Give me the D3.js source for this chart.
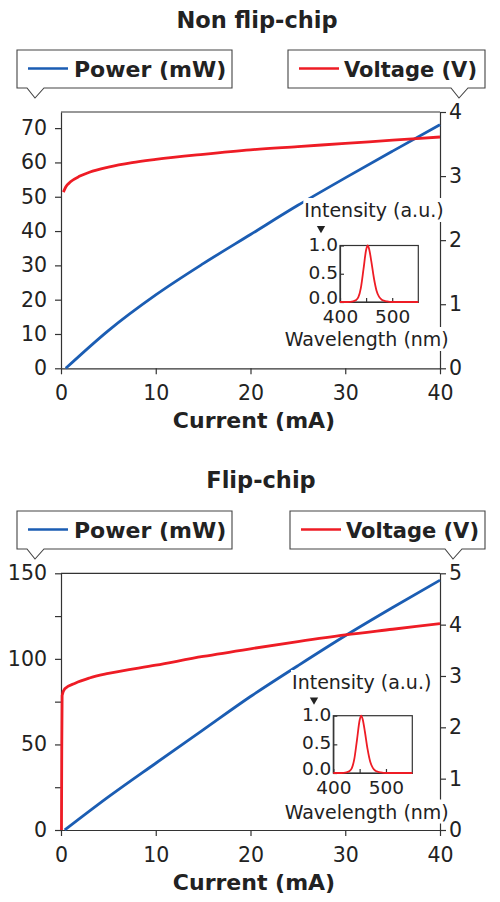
<!DOCTYPE html>
<html>
<head>
<meta charset="utf-8">
<script src="https://cdn.jsdelivr.net/npm/d3@7"></script>
<style>
body { margin: 0; background: #fff; }
svg { display: block; font-family: "DejaVu Sans", sans-serif; }
</style>
</head>
<body>
<svg id="chart" width="500" height="902"></svg>
<script>
// values
const nfPowerCurrent = [0.5, 5, 10, 15, 20, 25, 30, 35, 40]
const nfPower = [0, 11, 21.4, 30.5, 39, 47.5, 55.5, 63.3, 71]
const nfVoltCurrent = [0.25, 0.5, 1, 2, 3, 5, 7.5, 10, 15, 20, 25, 30, 35, 40]
const nfVoltage = [2.75, 2.83, 2.91, 3.0, 3.06, 3.14, 3.21, 3.26, 3.34, 3.41, 3.46, 3.51, 3.56, 3.61]

const fcPowerCurrent = [0.4, 5, 10, 15, 20, 25, 30, 35, 40]
const fcPower = [0, 19.3, 39, 58.5, 78, 96, 113.5, 130, 146]
const fcVoltCurrent = [0.05, 0.08, 0.12, 0.4, 1.5, 3, 5, 10, 15, 20, 25, 30, 35, 40]
const fcVoltage = [0, 1.5, 2.62, 2.75, 2.86, 2.96, 3.05, 3.21, 3.38, 3.53, 3.67, 3.8, 3.91, 4.02]

const wavelength = [400, 415, 425, 430, 435, 440, 445, 450, 453, 456, 460, 465, 470, 475, 480, 485, 490, 500, 550]
const intensity = [0, 0, 0.01, 0.03, 0.08, 0.25, 0.58, 0.92, 1.0, 0.93, 0.72, 0.42, 0.2, 0.09, 0.04, 0.02, 0.01, 0, 0]

const currentTicks = [0, 10, 20, 30, 40]
const nfPowerTicks = [0, 10, 20, 30, 40, 50, 60, 70]
const nfVoltTicks = [0, 1, 2, 3, 4]
const fcPowerTicks = [0, 25, 50, 75, 100, 125, 150]
const fcPowerLabels = [0, 50, 100, 150]
const fcVoltTicks = [0, 1, 2, 3, 4, 5]
const wlTicks = [400, 450, 500]
const wlLabels = [400, 500]
const intTicks = [0, 0.5, 1]

const svg = d3.select('#chart')
const blue = '#1b5db3'
const red = '#ee1c25'
const ink = '#222'
const rule = '#333'

const zip = (a, b) => a.map((v, i) => [v, b[i]])

const drawCallout = (b, color, label) => {
    const g = svg.append('g')
    const path = d3.path()
    path.moveTo(b.x0, b.y0)
    path.lineTo(b.x1, b.y0)
    path.lineTo(b.x1, b.y1)
    path.lineTo(b.tip + 9, b.y1)
    path.lineTo(b.tip, b.y1 + 10)
    path.lineTo(b.tip - 8, b.y1)
    path.lineTo(b.x0, b.y1)
    path.closePath()
    g.append('path').attr('d', path.toString())
        .attr('fill', '#fff').attr('stroke', '#444').attr('stroke-width', 1.1)
    g.append('line')
        .attr('x1', b.x0 + 11).attr('x2', b.x0 + 51)
        .attr('y1', b.y0 + 18.5).attr('y2', b.y0 + 18.5)
        .attr('stroke', color).attr('stroke-width', 2.6)
    g.append('text')
        .attr('x', b.x0 + b.textDx).attr('y', b.y0 + 26.5)
        .attr('font-size', b.size).attr('font-weight', 'bold').attr('fill', ink)
        .text(label)
}

const styleAxis = (sel, size) => {
    sel.selectAll('path, line').attr('stroke', rule).attr('stroke-width', 1.2)
    sel.selectAll('text').attr('font-size', size).attr('fill', ink)
        .attr('font-family', '"DejaVu Sans", sans-serif')
}

const labelWithBg = (x, y, txt, size) => {
    const g = svg.append('g')
    const rect = g.append('rect').attr('fill', '#fff')
    const t = g.append('text').attr('x', x).attr('y', y)
        .attr('text-anchor', 'middle').attr('font-size', size).attr('fill', ink)
        .text(txt)
    const bb = t.node().getBBox()
    rect.attr('x', bb.x - 1).attr('y', bb.y - 1)
        .attr('width', bb.width + 2).attr('height', bb.height + 2)
}

const drawPanel = (cfg) => {
    svg.append('text')
        .attr('x', cfg.titleX).attr('y', cfg.titleY)
        .attr('text-anchor', 'middle').attr('font-size', 22.5).attr('font-weight', 'bold')
        .attr('fill', ink).text(cfg.title)

    drawCallout(cfg.powerBox, blue, 'Power (mW)')
    drawCallout(cfg.voltBox, red, 'Voltage (V)')

    const x = d3.scaleLinear().domain([0, 40]).range([61, 440])
    const yL = d3.scaleLinear().domain([0, cfg.powerMax]).range([cfg.bottom, cfg.top])
    const yR = d3.scaleLinear().domain([0, cfg.voltMax]).range([cfg.bottom, cfg.top])

    svg.append('line')
        .attr('x1', 61).attr('x2', 440).attr('y1', cfg.top).attr('y2', cfg.top)
        .attr('stroke', rule).attr('stroke-width', 1.2)

    const gx = svg.append('g').attr('transform', `translate(0,${cfg.bottom})`)
        .call(d3.axisBottom(x).tickValues(currentTicks).tickSize(6).tickSizeOuter(0).tickPadding(11)
            .tickFormat(d3.format('d')))
    styleAxis(gx, 20.5)

    const gl = svg.append('g').attr('transform', 'translate(61,0)')
        .call(d3.axisLeft(yL).tickValues(cfg.powerTicks).tickSize(6).tickSizeOuter(0).tickPadding(8)
            .tickFormat(d => cfg.powerLabels.includes(d) ? d : ''))
    styleAxis(gl, 20.5)

    const gr = svg.append('g').attr('transform', 'translate(440,0)')
        .call(d3.axisRight(yR).tickValues(cfg.voltTicks).tickSize(6).tickSizeOuter(0).tickPadding(3)
            .tickFormat(d3.format('d')))
    styleAxis(gr, 20.5)

    svg.append('text')
        .attr('x', 254).attr('y', cfg.bottom + 59.5)
        .attr('text-anchor', 'middle').attr('font-size', 22).attr('font-weight', 'bold')
        .attr('fill', ink).text('Current (mA)')

    const lineP = d3.line().x(d => x(d[0])).y(d => yL(d[1])).curve(d3.curveMonotoneX)
    const lineV = d3.line().x(d => x(d[0])).y(d => yR(d[1])).curve(d3.curveMonotoneX)

    svg.append('path').attr('d', lineP(zip(cfg.powerCurrent, cfg.power)))
        .attr('fill', 'none').attr('stroke', blue).attr('stroke-width', 2.8)
    svg.append('path').attr('d', lineV(zip(cfg.voltCurrent, cfg.voltage)))
        .attr('fill', 'none').attr('stroke', red).attr('stroke-width', 2.8)

    // inset spectrum
    const ins = cfg.inset
    labelWithBg(ins.intX, ins.intY, 'Intensity (a.u.)', 19)
    labelWithBg(ins.wlX, ins.wlY, 'Wavelength (nm)', 19)
    svg.append('path')
        .attr('d', d3.symbol(d3.symbolTriangle, 30)())
        .attr('transform', `translate(${ins.triX},${ins.triY}) rotate(180)`)
        .attr('fill', ink)

    const xs = d3.scaleLinear().domain([400, 550]).range([ins.x0, ins.x1])
    const ys = d3.scaleLinear().domain([0, 1]).range([ins.y1, ins.y0])

    const gsx = svg.append('g').attr('transform', `translate(0,${ins.y1})`)
        .call(d3.axisBottom(xs).tickValues(wlTicks).tickSizeInner(-4).tickSizeOuter(0).tickPadding(8)
            .tickFormat(d => wlLabels.includes(d) ? d : ''))
    styleAxis(gsx, 18.5)
    const gsy = svg.append('g').attr('transform', `translate(${ins.x0},0)`)
        .call(d3.axisLeft(ys).tickValues(intTicks).tickSizeInner(-4).tickSizeOuter(0).tickPadding(2)
            .tickFormat(d3.format('.1f')))
    styleAxis(gsy, 18.5)
    gsy.selectAll('text').attr('dy', d => d === 0 ? '0.1em' : '0.25em')

    svg.append('rect')
        .attr('x', ins.x0).attr('y', ins.y0)
        .attr('width', ins.x1 - ins.x0).attr('height', ins.y1 - ins.y0)
        .attr('fill', 'none').attr('stroke', rule).attr('stroke-width', 1.2)

    const lineS = d3.line().x(d => xs(d[0])).y(d => ys(d[1])).curve(d3.curveMonotoneX)
    svg.append('path').attr('d', lineS(zip(wavelength, intensity)))
        .attr('fill', 'none').attr('stroke', red).attr('stroke-width', 1.8)
}

drawPanel({
    title: 'Non flip-chip', titleX: 257, titleY: 28,
    powerBox: { x0: 17, x1: 232, y0: 50, y1: 88, tip: 35, textDx: 57, size: 22 },
    voltBox: { x0: 288, x1: 485, y0: 50, y1: 88, tip: 459, textDx: 56, size: 21 },
    top: 112, bottom: 368.3,
    powerMax: 74.7, voltMax: 4,
    powerTicks: nfPowerTicks, powerLabels: nfPowerTicks, voltTicks: nfVoltTicks,
    powerCurrent: nfPowerCurrent, power: nfPower,
    voltCurrent: nfVoltCurrent, voltage: nfVoltage,
    inset: { x0: 340, x1: 418.3, y0: 245.5, y1: 302,
        intX: 374, intY: 217, wlX: 366.7, wlY: 346, triX: 321, triY: 228.5 }
})

drawPanel({
    title: 'Flip-chip', titleX: 261, titleY: 488,
    powerBox: { x0: 17, x1: 232, y0: 511, y1: 549, tip: 35, textDx: 57, size: 22 },
    voltBox: { x0: 290, x1: 485, y0: 511, y1: 549, tip: 453, textDx: 56, size: 21 },
    top: 573.3, bottom: 830,
    powerMax: 150, voltMax: 5,
    powerTicks: fcPowerTicks, powerLabels: fcPowerLabels, voltTicks: fcVoltTicks,
    powerCurrent: fcPowerCurrent, power: fcPower,
    voltCurrent: fcVoltCurrent, voltage: fcVoltage,
    inset: { x0: 333.3, x1: 412.3, y0: 715.7, y1: 773,
        intX: 361.7, intY: 689, wlX: 366.7, wlY: 818.5, triX: 314, triY: 700 }
})
</script>
</body>
</html>
